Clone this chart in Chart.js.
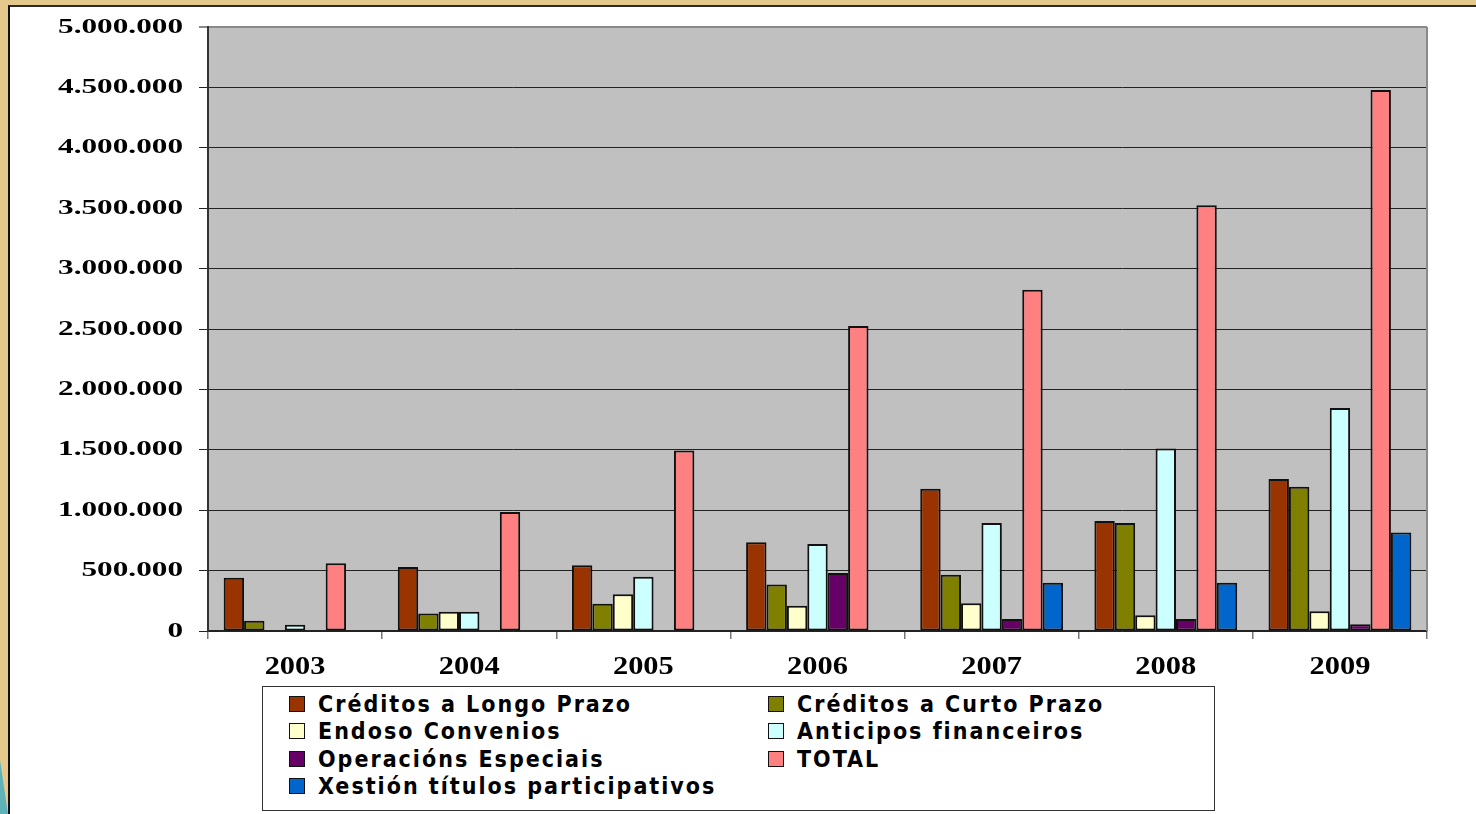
<!DOCTYPE html>
<html>
<head>
<meta charset="utf-8">
<script src="https://cdn.jsdelivr.net/npm/chart.js@4.4.0/dist/chart.umd.min.js"></script>
<style>
    html, body { margin: 0; padding: 0; }
    body {
        width: 1476px; height: 814px; overflow: hidden; position: relative;
        background: #e5c88c;
    }
    #panel {
        position: absolute; left: 8px; top: 5px; right: 0; bottom: 0;
        background: #fff; border-left: 2px solid #111; border-top: 2px solid #2a2a2a;
    }
    #corner {
        position: absolute; left: 0; top: 760px; width: 8px; height: 54px;
        background: #5fb3b8; clip-path: polygon(0 0, 100% 100%, 0 100%);
    }
    #chart-wrap { position: absolute; left: 9px; top: 6px; width: 1467px; height: 808px; }
    #legend {
        position: absolute; left: 262px; top: 686px; width: 951px; height: 123px;
        border: 1px solid #333; background: #fff;
        font-family: "DejaVu Sans Condensed", "DejaVu Sans", sans-serif; font-weight: bold;
        font-size: 23px; letter-spacing: 2px; color: #000;
    }
    .item { position: absolute; height: 26px; display: flex; align-items: center; white-space: nowrap; }
    .item span.box { width: 14px; height: 14px; border: 1.5px solid #111; margin-right: 13px; flex: none; }
</style>
</head>
<body>
<div id="panel"></div>
<div id="corner"></div>
<div id="chart-wrap"><canvas id="myChart" width="1467" height="808"></canvas></div>
<div id="legend"></div>

<script>
// chart data
const years = ['2003', '2004', '2005', '2006', '2007', '2008', '2009'];
const longoPrazo   = [440000, 530000, 545000, 735000, 1178000, 910000, 1258000];
const curtoPrazo   = [85000, 145000, 225000, 385000, 465000, 895000, 1195000];
const endoso       = [null, 160000, 305000, 210000, 230000, 130000, 163000];
const anticipos    = [52000, 160000, 450000, 720000, 895000, 1510000, 1846000];
const operacions   = [null, null, null, 480000, 100000, 100000, 55000];
const total        = [560000, 985000, 1495000, 2525000, 2825000, 3525000, 4478000];
const xestion      = [null, null, null, null, 400000, 400000, 815000];
const yTickLabels  = ['0', '500.000', '1.000.000', '1.500.000', '2.000.000', '2.500.000',
                      '3.000.000', '3.500.000', '4.000.000', '4.500.000', '5.000.000'];

const seriesNames  = ['Créditos a Longo Prazo', 'Créditos a Curto Prazo', 'Endoso Convenios',
                      'Anticipos financeiros', 'Operacións Especiais', 'TOTAL', 'Xestión títulos participativos'];
const seriesColors = ['#993300', '#808000', '#ffffcc', '#ccffff', '#660066', '#ff8080', '#0066cc'];
const seriesData   = [longoPrazo, curtoPrazo, endoso, anticipos, operacions, total, xestion];

// grey plot background + right border
const plotArea = {
    id: 'plotArea',
    beforeDraw(chart) {
        const { ctx, chartArea: a } = chart;
        ctx.save();
        ctx.fillStyle = '#c0c0c0';
        ctx.fillRect(a.left, a.top, a.right - a.left, a.bottom - a.top);
        ctx.restore();
    },
    afterDraw(chart) {
        const { ctx, chartArea: a } = chart;
        ctx.save();
        ctx.strokeStyle = '#8a8a8a';
        ctx.lineWidth = 2;
        ctx.beginPath();
        ctx.moveTo(a.right, a.top);
        ctx.lineTo(a.right, a.bottom);
        ctx.stroke();
        ctx.restore();
    }
};

// stretched serif tick labels, like the original
const axisLabels = {
    id: 'axisLabels',
    afterDraw(chart) {
        const ctx = chart.ctx;
        const ys = chart.scales.y, xs = chart.scales.x;
        ctx.save();
        ctx.fillStyle = '#000';
        ctx.textBaseline = 'middle';
        ctx.font = 'bold 22px "Liberation Serif", "DejaVu Serif", serif';
        ctx.textAlign = 'right';
        ys.ticks.forEach((t, i) => {
            const py = ys.getPixelForValue(t.value);
            ctx.save();
            ctx.translate(174, py);
            ctx.scale(1.42, 1);
            ctx.fillText(yTickLabels[i], 0, 0);
            ctx.restore();
        });
        ctx.font = 'bold 26px "Liberation Serif", "DejaVu Serif", serif';
        ctx.textAlign = 'center';
        years.forEach((label, i) => {
            const px = xs.getPixelForValue(i);
            ctx.save();
            ctx.translate(px, 661);
            ctx.scale(1.17, 1);
            ctx.fillText(label, 0, 0);
            ctx.restore();
        });
        ctx.restore();
    }
};

const ctx = document.getElementById('myChart').getContext('2d');
const chart = new Chart(ctx, {
    type: 'bar',
    data: {
        labels: years,
        datasets: seriesNames.map((name, i) => ({
            label: name,
            data: seriesData[i],
            backgroundColor: seriesColors[i],
            borderColor: '#111',
            borderWidth: 2,
            borderSkipped: false,
            categoryPercentage: 0.82,
            barPercentage: 1.0
        }))
    },
    options: {
        responsive: false,
        animation: false,
        layout: { padding: { left: 0, top: 21, right: 49, bottom: 0 } },
        plugins: {
            legend: { display: false },
            tooltip: { enabled: false }
        },
        scales: {
            x: {
                offset: true,
                grid: {
                    offset: true,
                    drawOnChartArea: false,
                    drawTicks: true,
                    tickLength: 8,
                    color: '#777',
                    lineWidth: 1.5
                },
                border: { display: true, color: '#222', width: 1.5 },
                ticks: { display: false },
                afterFit(scale) { scale.height = 183; }
            },
            y: {
                min: 0,
                max: 5000000,
                ticks: { display: false, stepSize: 500000 },
                grid: {
                    drawTicks: true,
                    tickLength: 9,
                    color: c => (c.tick && c.tick.value === 5000000) ? '#8a8a8a' : '#222',
                    lineWidth: c => (c.tick && c.tick.value === 5000000) ? 2 : 1
                },
                border: { display: true, color: '#333', width: 2 },
                afterFit(scale) { scale.width = 199; }
            }
        }
    },
    plugins: [plotArea, axisLabels]
});

// legend in two columns, filled row by row
const legendEl = document.getElementById('legend');
chart.data.datasets.forEach((ds, i) => {
    const item = document.createElement('div');
    item.className = 'item';
    item.style.left = (i % 2 === 0 ? 26 : 505) + 'px';
    item.style.top = (4 + Math.floor(i / 2) * 27.3) + 'px';
    const box = document.createElement('span');
    box.className = 'box';
    box.style.background = ds.backgroundColor;
    const txt = document.createElement('span');
    txt.textContent = ds.label;
    item.appendChild(box);
    item.appendChild(txt);
    legendEl.appendChild(item);
});
</script>
</body>
</html>
